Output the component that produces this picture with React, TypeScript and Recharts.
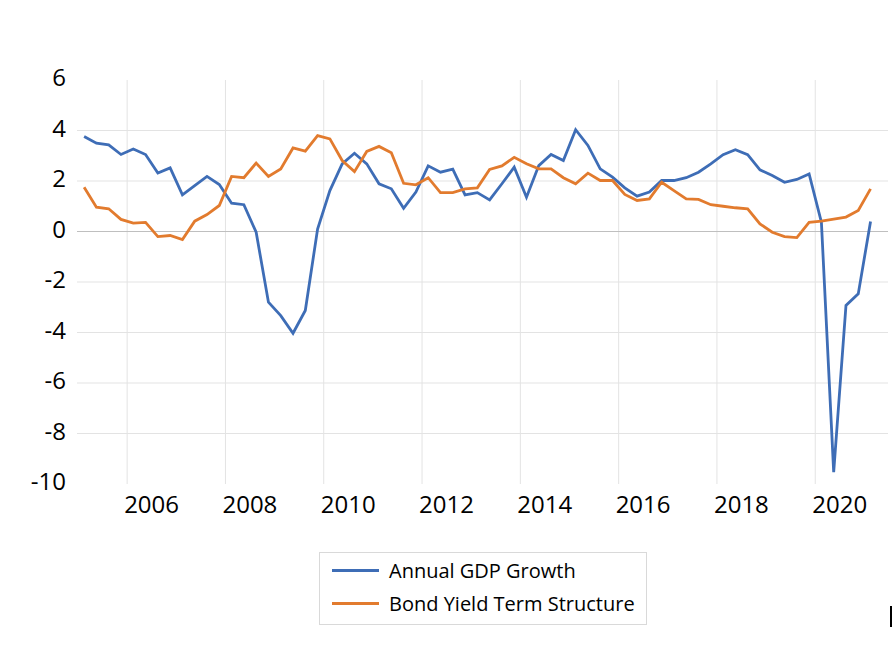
import React from "react"
import {
  LineChart,
  Line,
  XAxis,
  YAxis,
  CartesianGrid,
  ReferenceLine,
  Legend,
} from "recharts"

// quarterly observations, 2005 Q1 .. 2021 Q1
const firstYear = 2005
const gdpGrowth = [
  3.76, 3.5, 3.43, 3.05, 3.27, 3.05, 2.32, 2.52, 1.45, 1.82, 2.18, 1.86,
  1.12, 1.06, -0.03, -2.8, -3.33, -4.03, -3.13, 0.1, 1.62, 2.68, 3.1, 2.68,
  1.89, 1.69, 0.92, 1.56, 2.6, 2.35, 2.47, 1.45, 1.54, 1.25, 1.89, 2.55,
  1.36, 2.61, 3.05, 2.81, 4.03, 3.41, 2.48, 2.15, 1.73, 1.4, 1.56, 2.02,
  2.02, 2.13, 2.35, 2.68, 3.04, 3.24, 3.04, 2.44, 2.22, 1.95, 2.06, 2.28,
  0.37, -9.53, -2.93, -2.47, 0.4,
]
const bondTermStructure = [
  1.75, 0.96, 0.9, 0.48, 0.33, 0.36, -0.2, -0.16, -0.32, 0.41, 0.67, 1.03,
  2.18, 2.13, 2.71, 2.18, 2.48, 3.31, 3.18, 3.8, 3.67, 2.81, 2.37, 3.17,
  3.37, 3.12, 1.91, 1.85, 2.13, 1.54, 1.54, 1.69, 1.73, 2.46, 2.6, 2.94,
  2.68, 2.48, 2.48, 2.13, 1.89, 2.31, 2.02, 2.02, 1.47, 1.23, 1.29, 1.95,
  1.62, 1.29, 1.27, 1.06, 1.0, 0.94, 0.9, 0.3, -0.03, -0.2, -0.24, 0.36,
  0.41, 0.49, 0.57, 0.83, 1.69,
]
const yearTicks = [2006, 2008, 2010, 2012, 2014, 2016, 2018, 2020]
const valueTicks = [-10, -8, -6, -4, -2, 0, 2, 4, 6]

const seriesNames = ["Annual GDP Growth", "Bond Yield Term Structure"]
const blue = "#3e6db6"
const orange = "#e27b2e"
const font = "'Open Sans', 'Noto Sans', sans-serif"

// each point sits at the middle of its quarter
const data = gdpGrowth.map((g, i) => ({
  t: firstYear + Math.floor(i / 4) + ((i % 4) + 0.5) / 4,
  gdp: g,
  bond: bondTermStructure[i],
}))

const YearTick = ({ x, y, payload }: any) => (
  <text x={x - 3} y={y + 21} textAnchor="start" fontSize={24} fontFamily={font} fill="#000">
    {payload.value}
  </text>
)

const ValueTick = ({ x, y, payload }: any) => (
  <text x={x - 3} y={y + 6} textAnchor="end" fontSize={24} fontFamily={font} fill="#000">
    {payload.value}
  </text>
)

const LegendBox = () => (
  <div
    style={{
      width: 326,
      height: 71,
      border: "1px solid #d9d9d9",
      fontFamily: font,
      fontSize: 20,
      color: "#000",
      boxSizing: "content-box",
    }}
  >
    {seriesNames.map((name, i) => (
      <div
        key={name}
        style={{
          display: "flex",
          alignItems: "center",
          height: 33,
          marginTop: i === 0 ? 1 : 0,
        }}
      >
        <div
          style={{
            width: 47,
            height: 3,
            marginLeft: 12,
            marginRight: 10,
            background: i === 0 ? blue : orange,
          }}
        />
        <span>{name}</span>
      </div>
    ))}
  </div>
)

export default function App() {
  return (
    <div style={{ position: "absolute", left: 0, top: 0, width: 893, height: 650, background: "#fff" }}>
      <LineChart
        width={893}
        height={650}
        data={data}
        margin={{ top: 80, right: 5, bottom: 0, left: 0 }}
      >
        <CartesianGrid
          stroke="#e3e3e3"
          strokeWidth={1}
          horizontalValues={[-8, -6, -4, -2, 2, 4]}
          verticalValues={yearTicks}
        />
        <XAxis
          dataKey="t"
          type="number"
          domain={[2004.98, 2021.48]}
          ticks={yearTicks}
          tick={<YearTick />}
          axisLine={false}
          tickLine={false}
          height={93}
          allowDataOverflow
        />
        <YAxis
          type="number"
          domain={[-10, 6]}
          ticks={valueTicks}
          tick={<ValueTick />}
          axisLine={false}
          tickLine={false}
          width={77}
        />
        <ReferenceLine y={0} stroke="#bfbfbf" strokeWidth={1.2} />
        <Line
          dataKey="gdp"
          name={seriesNames[0]}
          stroke={blue}
          strokeWidth={2.8}
          dot={false}
          type="linear"
          isAnimationActive={false}
        />
        <Line
          dataKey="bond"
          name={seriesNames[1]}
          stroke={orange}
          strokeWidth={2.8}
          dot={false}
          type="linear"
          isAnimationActive={false}
        />
        <Legend
          content={<LegendBox />}
          wrapperStyle={{ position: "absolute", left: 319, top: 552, width: "auto", height: "auto" }}
        />
      </LineChart>
      <div style={{ position: "absolute", left: 890, top: 606, width: 2, height: 21, background: "#000" }} />
    </div>
  )
}
